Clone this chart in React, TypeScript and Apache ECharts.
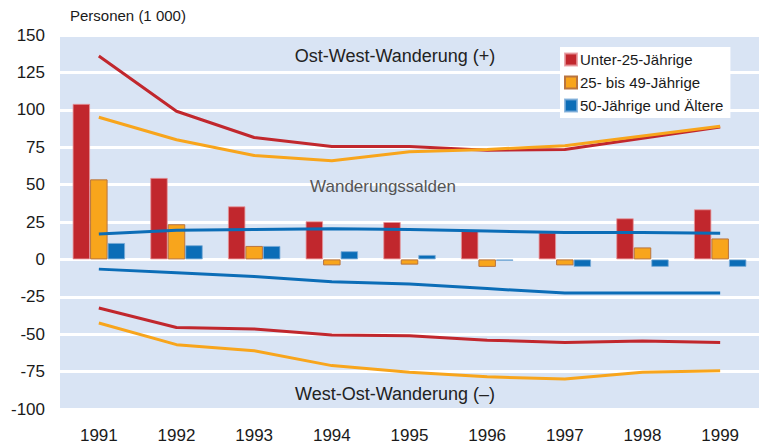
import React, { useEffect, useRef } from "react";
import * as echarts from "echarts";

const years = ["1991", "1992", "1993", "1994", "1995", "1996", "1997", "1998", "1999"];

// Wanderungssalden (bars)
const saldoUnter25 = [104, 54.5, 35.5, 25.5, 25, 19, 18, 27.5, 33.5];
const saldo25bis49 = [53.5, 23.5, 9, -4, -3.5, -5, -4, 8, 14];
const saldo50plus = [11, 9.5, 9, 5.5, 3, -1, -5, -5, -5];

// Ost-West-Wanderung (+)
const owUnter25 = [136, 99, 81.5, 75.5, 75.5, 73, 73.5, 81, 88.5];
const ow25bis49 = [95, 80, 69.5, 66, 72, 73.5, 76, 82.5, 89];
const ow50plus = [17, 19.5, 20, 20.5, 20, 19, 18, 18, 17.5];

// West-Ost-Wanderung (–)
const woUnter25 = [-32.5, -45.5, -46.5, -50.5, -51, -54, -55.5, -54.5, -55.5];
const wo25bis49 = [-42.5, -57, -61, -71, -75.5, -78.5, -80, -75.5, -74.5];
const wo50plus = [-6.5, -9, -11.5, -15, -16.5, -19.5, -22.5, -22.5, -22.5];

const legendNames = ["Unter-25-Jährige", "25- bis 49-Jährige", "50-Jährige und Ältere"];

const RED = "#c1272d";
const ORANGE = "#f8a51c";
const BLUE = "#0b6db7";
const BAND = "#d9e4f4";
const FONT = "'Liberation Sans', Arial, sans-serif";

export default function App() {
  const ref = useRef<HTMLDivElement>(null);
  useEffect(() => {
    if (!ref.current) return;
    const chart = echarts.init(ref.current, undefined, { renderer: "svg" });
    const bar = (name: string, data: number[], color: string, border: string) => ({
      type: "bar",
      name,
      data,
      barWidth: 17.5,
      barGap: "0%",
      itemStyle: { color, borderColor: border, borderWidth: 1 },
      z: 2,
    });
    const line = (name: string, data: number[], color: string) => ({
      type: "line",
      name,
      data,
      showSymbol: false,
      symbol: "none",
      lineStyle: { color, width: 3 },
      itemStyle: { color },
      z: 3,
    });
    chart.setOption({
      animation: false,
      textStyle: { fontFamily: FONT },
      grid: {
        left: 60,
        right: -3,
        top: 35,
        bottom: 36,
        show: true,
        backgroundColor: BAND,
        borderWidth: 0,
      },
      legend: {
        data: legendNames,
        orient: "vertical",
        left: 560,
        top: 47,
        backgroundColor: "#ffffff",
        padding: [5, 7, 5, 4],
        itemWidth: 12,
        itemHeight: 12,
        itemGap: 8,
        icon: "rect",
        selectedMode: false,
        textStyle: { fontSize: 15, color: "#1a1a1a", fontFamily: FONT, lineHeight: 15, padding: [0, 0, 0, -2] },
      },
      xAxis: {
        type: "category",
        data: years,
        axisLine: { show: false },
        axisTick: { show: false },
        axisLabel: { fontSize: 17, color: "#1a1a1a", margin: 18, fontFamily: FONT },
      },
      yAxis: {
        type: "value",
        min: -100,
        max: 150,
        interval: 25,
        axisLine: { show: false },
        axisTick: { show: false },
        axisLabel: { fontSize: 17, color: "#1a1a1a", margin: 15, fontFamily: FONT },
        splitLine: { show: true, lineStyle: { color: "#ffffff", width: 3 } },
      },
      graphic: [
        { type: "text", left: 70, top: 8, style: { text: "Personen (1 000)", fontSize: 15, fill: "#1a1a1a", fontFamily: FONT } },
        { type: "text", x: 395, y: 56, style: { text: "Ost-West-Wanderung (+)", fontSize: 18, fill: "#222", fontFamily: FONT, textAlign: "center", textVerticalAlign: "middle" }, z: 10 },
        { type: "text", x: 383, y: 186, style: { text: "Wanderungssalden", fontSize: 17, fill: "#555", fontFamily: FONT, textAlign: "center", textVerticalAlign: "middle" }, z: 10 },
        { type: "text", x: 395, y: 394, style: { text: "West-Ost-Wanderung (–)", fontSize: 18, fill: "#222", fontFamily: FONT, textAlign: "center", textVerticalAlign: "middle" }, z: 10 },
      ],
      series: [
        bar(legendNames[0], saldoUnter25, RED, "rgba(230,150,155,0.8)"),
        bar(legendNames[1], saldo25bis49, ORANGE, "#b9743f"),
        bar(legendNames[2], saldo50plus, BLUE, "rgba(120,170,215,0.8)"),
        line("OW Unter-25", owUnter25, RED),
        line("OW 25-49", ow25bis49, ORANGE),
        line("OW 50+", ow50plus, BLUE),
        line("WO 50+", wo50plus, BLUE),
        line("WO Unter-25", woUnter25, RED),
        line("WO 25-49", wo25bis49, ORANGE),
      ],
    });
    return () => chart.dispose();
  }, []);
  return (
    <div
      ref={ref}
      style={{ position: "fixed", left: 0, top: 0, width: 759, height: 445, background: "#ffffff" }}
    />
  );
}
